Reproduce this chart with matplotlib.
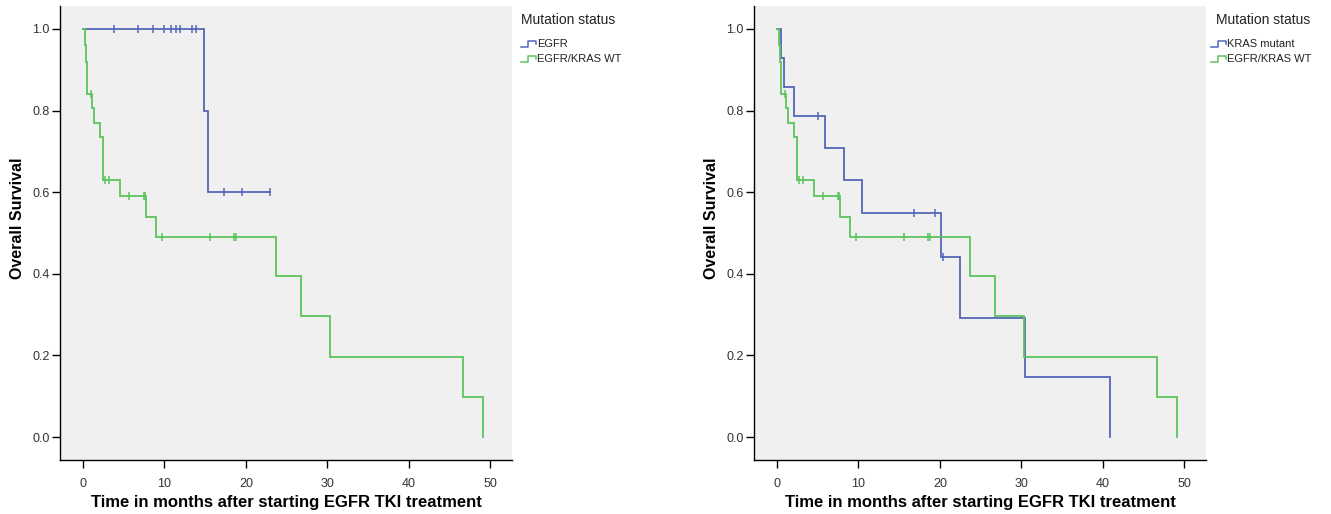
import numpy as np
import matplotlib
matplotlib.use("Agg")
import matplotlib.pyplot as plt
from matplotlib.lines import Line2D

plt.rcParams['font.family'] = ['Liberation Sans', 'DejaVu Sans']

# ---------------- data ----------------
# Left panel: EGFR
egfr_times = [0.0, 14.8, 15.3]
egfr_surv = [1.0, 0.8, 0.6]
egfr_censor = [3.85, 6.7, 8.55, 10.0, 10.8, 11.4, 11.95, 13.4, 13.9, 17.3, 19.5, 23.0]
egfr_end = 23.0

# Both panels: EGFR/KRAS WT
wt_times = [0.0, 0.3, 0.38, 0.45, 0.5, 1.1, 1.3, 2.1, 2.5, 4.5, 7.7, 9.0,
            23.7, 26.8, 30.3, 46.7, 49.1]
wt_surv = [1.0, 0.96, 0.92, 0.88, 0.84, 0.805, 0.77, 0.735, 0.63, 0.59, 0.54, 0.49,
           0.395, 0.296, 0.197, 0.099, 0.0]
wt_censor = [1.0, 2.7, 3.2, 5.65, 7.45, 7.6, 9.7, 15.6, 18.6, 18.8]
wt_end = 49.1

# Right panel: KRAS mutant
kras_times = [0.0, 0.5, 0.85, 2.1, 5.9, 8.25, 10.45, 20.2, 22.5, 30.5, 40.9]
kras_surv = [1.0, 0.929, 0.857, 0.786, 0.707, 0.629, 0.55, 0.44, 0.293, 0.147, 0.0]
kras_censor = [5.0, 16.8, 19.4, 20.4]
kras_end = 40.9

x_ticks = [0, 10, 20, 30, 40, 50]
y_ticks = [0.0, 0.2, 0.4, 0.6, 0.8, 1.0]

legend_title = "Mutation status"
x_label = "Time in months after starting EGFR TKI treatment"
y_label = "Overall Survival"

BLUE = "#5467b8"
GREEN = "#5cc45c"

W, H = 1331, 514
fig = plt.figure(figsize=(W / 100, H / 100), dpi=100)


def fx(x):
    return x / W


def fy(y):
    return 1 - y / H


def draw_km(ax, times, surv, censors, end, color):
    t = list(times) + [end]
    s = list(surv) + [surv[-1]]
    ax.step(t, s, where='post', color=color, lw=1.3, solid_joinstyle='miter')
    tarr = np.asarray(times)
    sarr = np.asarray(surv)
    idx = np.searchsorted(tarr, censors, side='right') - 1
    ax.plot(censors, sarr[idx], ls='none', marker='|', ms=6, mew=1.1, color=color)


def setup_axes(left_px):
    ax = fig.add_axes([fx(left_px), fy(460), fx(452), 454 / H])
    ax.set_facecolor('#f0f0f0')
    ax.set_xlim(-2.83, 52.7)
    ax.set_ylim(-0.056, 1.056)
    for sp in ['top', 'right']:
        ax.spines[sp].set_visible(False)
    for sp in ['left', 'bottom']:
        ax.spines[sp].set_linewidth(1.0)
        ax.spines[sp].set_color('black')
    ax.set_xticks(x_ticks)
    ax.set_yticks(y_ticks)
    ax.set_yticklabels([f"{v:.1f}" for v in y_ticks])
    ax.tick_params(direction='out', length=6, width=1, colors='black',
                   labelcolor='#333333', labelsize=9)
    ax.tick_params(axis='x', pad=7)
    ax.tick_params(axis='y', pad=1.5)
    ax.set_xlabel(x_label, fontsize=12, fontweight='bold')
    ax.xaxis.set_label_coords(0.5, (460 - 503) / 454)
    ax.xaxis.label.set_va('center')
    ax.set_ylabel(y_label, fontsize=11.5, fontweight='bold')
    ax.yaxis.set_label_coords((17 - 60) / 452, (460 - 218) / 454)
    ax.yaxis.label.set_va('center')
    return ax


def legend(x_title, x_icon, names_colors):
    fig.text(fx(x_title), fy(20), legend_title, fontsize=10, color='#222222',
             ha='left', va='center')
    for i, (name, col) in enumerate(names_colors):
        yc = 44 + 15 * i
        xs = [x_icon, x_icon + 7, x_icon + 7, x_icon + 15, x_icon + 15]
        ys = [yc + 3, yc + 3, yc - 3, yc - 3, yc]
        fig.add_artist(Line2D([fx(v) for v in xs], [fy(v) for v in ys],
                              transform=fig.transFigure, color=col, lw=1.1))
        fig.text(fx(x_icon + 16), fy(yc), name, fontsize=8, color='#222222',
                 ha='left', va='center')


ax1 = setup_axes(60)
draw_km(ax1, egfr_times, egfr_surv, egfr_censor, egfr_end, BLUE)
draw_km(ax1, wt_times, wt_surv, wt_censor, wt_end, GREEN)
legend(521, 521, [("EGFR", BLUE), ("EGFR/KRAS WT", GREEN)])

ax2 = setup_axes(754)
draw_km(ax2, kras_times, kras_surv, kras_censor, kras_end, BLUE)
draw_km(ax2, wt_times, wt_surv, wt_censor, wt_end, GREEN)
legend(1216, 1211, [("KRAS mutant", BLUE), ("EGFR/KRAS WT", GREEN)])

fig.savefig("out.png", dpi=100, facecolor='white')
